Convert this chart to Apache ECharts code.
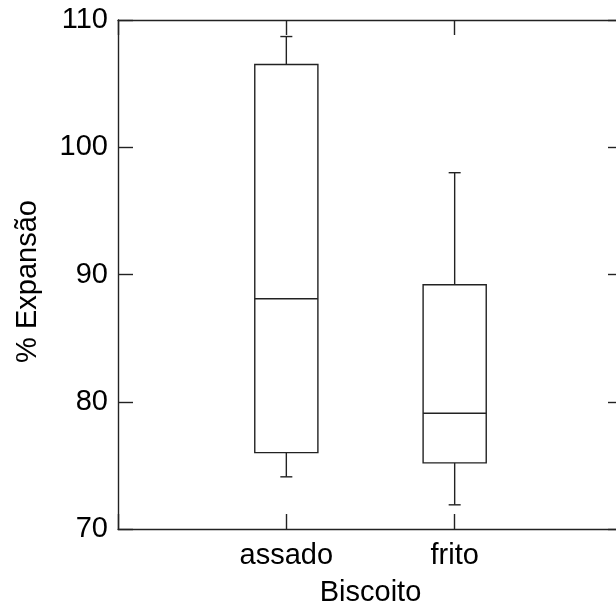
<!DOCTYPE html>
<html>
<head>
<meta charset="utf-8">
<script src="https://cdn.jsdelivr.net/npm/echarts@6/dist/echarts.min.js"></script>
<style>
  html, body { margin: 0; padding: 0; background: #fff; }
  #chart { width: 616px; height: 606px; }
</style>
</head>
<body>
<div id="chart"></div>
<script>
// dados
const categories = ['assado', 'frito'];
const minVals = [74.1, 71.9];
const q1Vals = [76.0, 75.2];
const medVals = [88.1, 79.1];
const q3Vals = [106.5, 89.2];
const maxVals = [108.7, 98.0];
const yTicks = [70, 80, 90, 100, 110];

const fontFamily = '"Liberation Sans", Arial, sans-serif';
const fontSize = 29;
const ink = '#222';

// categoria vazia nas pontas, para que assado/frito fiquem em 1/3 e 2/3
const axisCats = [''].concat(categories, ['']);
const boxData = categories.map((c, i) => [i + 1, minVals[i], q1Vals[i], medVals[i], q3Vals[i], maxVals[i]]);

const chart = echarts.init(document.getElementById('chart'), null, { renderer: 'canvas' });

const lineStyle = { color: ink, width: 1.4 };

chart.setOption({
    backgroundColor: '#fff',
    animation: false,
    grid: { left: 118, top: 20, width: 505, height: 509, containLabel: false, outerBoundsMode: 'none' },
    xAxis: [{
        type: 'category',
        data: axisCats,
        boundaryGap: false,
        position: 'bottom',
        name: 'Biscoito',
        nameLocation: 'middle',
        nameGap: 49,
        nameTextStyle: { color: '#000', fontSize: fontSize, fontFamily: fontFamily },
        axisLine: { lineStyle: lineStyle },
        axisTick: { inside: true, length: 15, interval: 0, lineStyle: lineStyle },
        axisLabel: { interval: 0, margin: 12, color: '#000', fontSize: fontSize, fontFamily: fontFamily },
        splitLine: { show: false }
    }, {
        type: 'category',
        data: axisCats,
        boundaryGap: false,
        position: 'top',
        axisLine: { lineStyle: lineStyle },
        axisTick: { inside: true, length: 15, interval: 0, lineStyle: lineStyle },
        axisLabel: { show: false },
        splitLine: { show: false }
    }],
    yAxis: [{
        type: 'value',
        min: yTicks[0],
        max: yTicks[yTicks.length - 1],
        interval: 10,
        position: 'left',
        name: '% Expansão',
        nameLocation: 'middle',
        nameGap: 76,
        nameRotate: 90,
        nameTextStyle: { color: '#000', fontSize: fontSize, fontFamily: fontFamily, padding: [0, 14, 0, 0] },
        axisLine: { show: true, lineStyle: lineStyle },
        axisTick: { show: true, inside: true, length: 15, lineStyle: lineStyle },
        axisLabel: { margin: 10, color: '#000', fontSize: fontSize, fontFamily: fontFamily },
        splitLine: { show: false }
    }, {
        type: 'value',
        min: yTicks[0],
        max: yTicks[yTicks.length - 1],
        interval: 10,
        position: 'right',
        axisLine: { show: true, lineStyle: lineStyle },
        axisTick: { show: true, inside: true, length: 15, lineStyle: lineStyle },
        axisLabel: { show: false },
        splitLine: { show: false }
    }],
    series: [{
        type: 'custom',
        xAxisIndex: 0,
        yAxisIndex: 0,
        encode: { x: 0, y: [1, 2, 3, 4, 5] },
        data: boxData,
        renderItem: function (params, api) {
            const x = api.value(0);
            const pMin = api.coord([x, api.value(1)]);
            const pQ1 = api.coord([x, api.value(2)]);
            const pMed = api.coord([x, api.value(3)]);
            const pQ3 = api.coord([x, api.value(4)]);
            const pMax = api.coord([x, api.value(5)]);
            const band = api.size([1, 0])[0];
            const halfW = band * 0.1875;
            const capHalf = 6;
            const cx = pMed[0];
            const st = { stroke: ink, lineWidth: 1.4, fill: null };
            return {
                type: 'group',
                children: [
                    { type: 'line', shape: { x1: cx, y1: pQ3[1], x2: cx, y2: pMax[1] }, style: st },
                    { type: 'line', shape: { x1: cx - capHalf, y1: pMax[1], x2: cx + capHalf, y2: pMax[1] }, style: st },
                    { type: 'line', shape: { x1: cx, y1: pQ1[1], x2: cx, y2: pMin[1] }, style: st },
                    { type: 'line', shape: { x1: cx - capHalf, y1: pMin[1], x2: cx + capHalf, y2: pMin[1] }, style: st },
                    {
                        type: 'rect',
                        shape: { x: cx - halfW, y: pQ3[1], width: halfW * 2, height: pQ1[1] - pQ3[1] },
                        style: { stroke: ink, lineWidth: 1.4, fill: '#fff' }
                    },
                    { type: 'line', shape: { x1: cx - halfW, y1: pMed[1], x2: cx + halfW, y2: pMed[1] }, style: st }
                ]
            };
        }
    }]
});
</script>
</body>
</html>
